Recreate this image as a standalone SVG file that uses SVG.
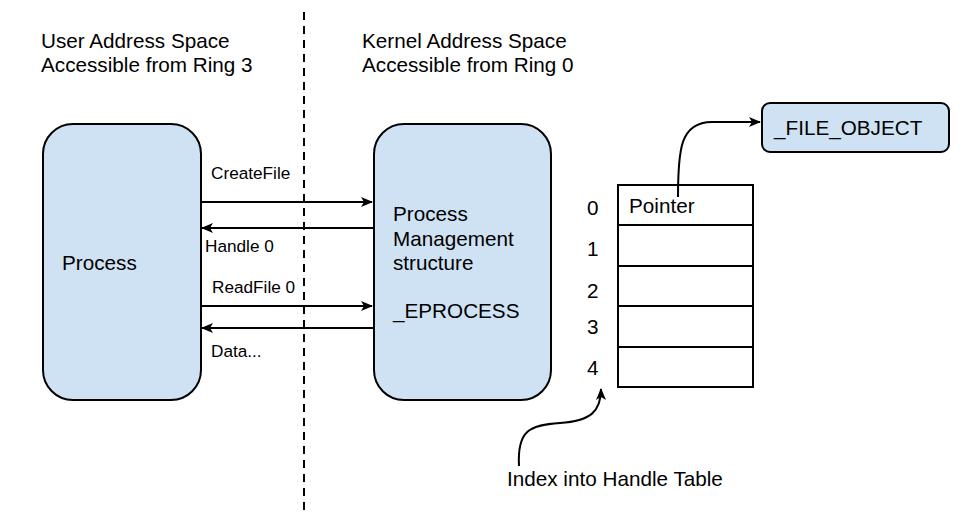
<svg xmlns="http://www.w3.org/2000/svg" width="972" height="519" viewBox="0 0 972 519">
<style>
text{font-family:"Liberation Sans",Arial,sans-serif;fill:#000}
.big{font-size:20.7px}
.sm{font-size:17.2px}
.box{fill:#cfe2f3;stroke:#000;stroke-width:2}
.cell{fill:#fff;stroke:#000;stroke-width:2}
.ln{fill:none;stroke:#000;stroke-width:2}
</style>
<defs>
<marker id="ah" markerWidth="12" markerHeight="10" refX="11" refY="5" orient="auto" markerUnits="userSpaceOnUse">
<path d="M0,0 L12,5 L0,10 L3,5 Z" fill="#000"/>
</marker>
</defs>
<rect width="972" height="519" fill="#fff"/>
<line x1="304" y1="12" x2="304" y2="515" stroke="#000" stroke-width="2" stroke-dasharray="8,6"/>
<g id="labels">
<text class="big" x="41" y="48">User Address Space</text>
<text class="big" x="41" y="72">Accessible from Ring 3</text>
<text class="big" x="362" y="48">Kernel Address Space</text>
<text class="big" x="362" y="72">Accessible from Ring 0</text>
</g>
<g id="process">
<rect class="box" x="43" y="124" width="158" height="276" rx="30"/>
<text class="big" x="62" y="270">Process</text>
</g>
<g id="eprocess">
<rect class="box" x="374" y="124" width="177" height="276" rx="30"/>
<text class="big" x="393" y="221">Process</text>
<text class="big" x="393" y="246">Management</text>
<text class="big" x="393" y="270">structure</text>
<text class="big" x="393" y="318">_EPROCESS</text>
</g>
<g id="fileobject">
<rect class="box" x="762" y="103" width="187" height="49" rx="8"/>
<text class="big" x="774" y="135">_FILE_OBJECT</text>
</g>
<g id="handletable">
<rect class="cell" x="618" y="185" width="135" height="40"/>
<rect class="cell" x="618" y="225" width="135" height="41"/>
<rect class="cell" x="618" y="266" width="135" height="40"/>
<rect class="cell" x="618" y="306" width="135" height="41"/>
<rect class="cell" x="618" y="347" width="135" height="40"/>
<text class="big" x="629" y="213">Pointer</text>
<text class="big" x="587" y="215">0</text>
<text class="big" x="587" y="256">1</text>
<text class="big" x="587" y="298">2</text>
<text class="big" x="587" y="334">3</text>
<text class="big" x="587" y="375">4</text>
</g>
<g id="index-label">
<text class="big" x="507" y="486">Index into Handle Table</text>
</g>
<g id="connectors">
<line class="ln" x1="201" y1="202" x2="372" y2="202" marker-end="url(#ah)"/>
<line class="ln" x1="374" y1="228" x2="202" y2="228" marker-end="url(#ah)"/>
<line class="ln" x1="201" y1="306" x2="372" y2="306" marker-end="url(#ah)"/>
<line class="ln" x1="374" y1="328" x2="202" y2="328" marker-end="url(#ah)"/>
<path class="ln" d="M678,197 C678,150 680,122 712,122 L760,122" marker-end="url(#ah)"/>
<path class="ln" d="M519,466 C517,430 530,425 560,423 C590,421 601,412 601,389" marker-end="url(#ah)"/>
<text class="sm" x="211" y="179">CreateFile</text>
<text class="sm" x="205" y="252">Handle 0</text>
<text class="sm" x="212" y="293">ReadFile 0</text>
<text class="sm" x="211" y="357">Data...</text>
</g>
</svg>
